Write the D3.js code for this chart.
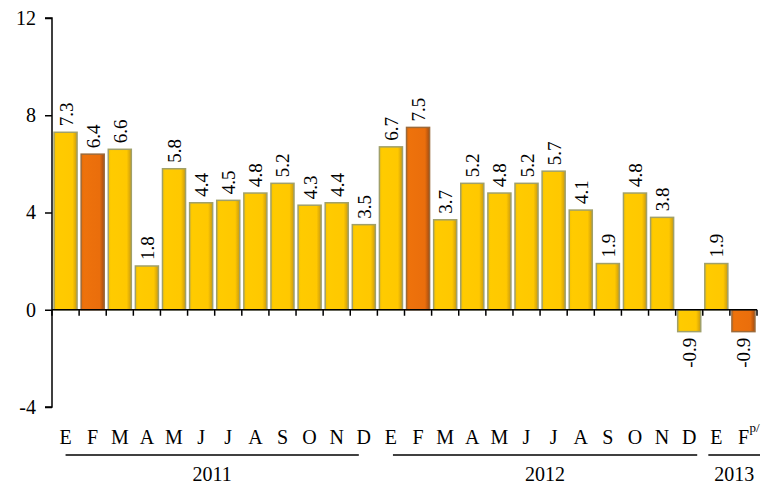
<!DOCTYPE html>
<html>
<head>
<meta charset="utf-8">
<script src="https://cdn.jsdelivr.net/npm/d3@7"></script>
<style>
  html, body { margin: 0; padding: 0; background: #fff; }
  svg text { font-family: "Liberation Serif", "Times New Roman", serif; }
</style>
</head>
<body>
<svg id="chart" width="764" height="489"></svg>
<script>
// Monthly values, Jan 2011 – Feb 2013
const months = ["E","F","M","A","M","J","J","A","S","O","N","D",
                "E","F","M","A","M","J","J","A","S","O","N","D",
                "E","F"];
const values = [7.3, 6.4, 6.6, 1.8, 5.8, 4.4, 4.5, 4.8, 5.2, 4.3, 4.4, 3.5,
                6.7, 7.5, 3.7, 5.2, 4.8, 5.2, 5.7, 4.1, 1.9, 4.8, 3.8, -0.9,
                1.9, -0.9];
// February bars are highlighted
const highlight = [1, 13, 25];
const years = ["2011", "2012", "2013"];
const yearFrom = [0, 12, 24];
const yearTo = [11, 23, 25];
const yTicks = [-4, 0, 4, 8, 12];

(function () {
  const FONT = "'Liberation Serif', 'Times New Roman', serif";
  const svg = d3.select("#chart");
  const L = 52, R = 757, T = 18, B = 407;

  const x = d3.scaleBand().domain(d3.range(values.length)).range([L, R]).paddingInner(0.15).paddingOuter(0.075);
  const y = d3.scaleLinear().domain([-4, 12]).range([B, T]);

  const defs = svg.append("defs");
  function grad(id, stops) {
    const g = defs.append("linearGradient").attr("id", id).attr("x1", 0).attr("x2", 1).attr("y1", 0).attr("y2", 0);
    stops.forEach(s => g.append("stop").attr("offset", s[0]).attr("stop-color", s[1]));
  }
  grad("gYellow", [[0, "#f5c200"], [0.12, "#ffcb00"], [0.8, "#ffc800"], [1, "#c99a10"]]);
  grad("gOrange", [[0, "#e06a08"], [0.12, "#ee720c"], [0.8, "#ea6e0c"], [1, "#a44c10"]]);

  // Bars
  svg.append("g").selectAll("rect").data(values).join("rect")
    .attr("x", (d, i) => x(i))
    .attr("width", x.bandwidth())
    .attr("y", d => y(Math.max(0, d)))
    .attr("height", d => Math.abs(y(d) - y(0)))
    .attr("fill", (d, i) => highlight.includes(i) ? "url(#gOrange)" : "url(#gYellow)")
    .attr("stroke", (d, i) => highlight.includes(i) ? "#9c6a3a" : "#a0a06a")
    .attr("stroke-width", 1.5);

  // Y axis
  const yAxis = d3.axisLeft(y).tickValues(yTicks).tickSize(7).tickPadding(9).tickFormat(d => String(d));
  const gy = svg.append("g").attr("transform", `translate(${L},0)`).call(yAxis)
    .attr("font-family", FONT).attr("font-size", 20);
  gy.select(".domain").attr("stroke", "#000").attr("stroke-width", 1.5).attr("d", `M-7,${T}H0V${B}H-7`);
  gy.selectAll(".tick line").attr("stroke", "#000").attr("stroke-width", 1.5);
  gy.selectAll(".tick text").attr("fill", "#000");

  // Zero line with tick marks at band boundaries
  const zg = svg.append("g");
  zg.append("line").attr("x1", L).attr("x2", R).attr("y1", y(0)).attr("y2", y(0))
    .attr("stroke", "#000").attr("stroke-width", 1.5);
  const step = x.step();
  zg.selectAll("line.t").data(d3.range(values.length + 1)).join("line").attr("class", "t")
    .attr("x1", i => L + i * step).attr("x2", i => L + i * step)
    .attr("y1", y(0)).attr("y2", y(0) + 6)
    .attr("stroke", "#000").attr("stroke-width", 1.5);

  // Value labels, rotated
  svg.append("g").attr("font-family", FONT).selectAll("text").data(values).join("text")
    .attr("transform", (d, i) => {
      const cx = x(i) + x.bandwidth() / 2 + 7;
      const yy = d >= 0 ? y(d) - 6 : y(d) + 6;
      return `translate(${cx},${yy}) rotate(-90)`;
    })
    .attr("text-anchor", d => d >= 0 ? "start" : "end")
    .attr("font-size", 19)
    .attr("fill", "#000")
    .text(d => d.toFixed(1));

  // Month labels
  svg.append("g").attr("font-family", FONT).selectAll("text").data(months).join("text")
    .attr("x", (d, i) => x(i) + x.bandwidth() / 2)
    .attr("y", 444)
    .attr("text-anchor", "middle")
    .attr("font-size", 20)
    .attr("fill", "#000")
    .text(d => d);
  // preliminary marker on the last month
  svg.append("text")
    .attr("font-family", FONT)
    .attr("x", x(values.length - 1) + x.bandwidth() / 2 + 6)
    .attr("y", 432)
    .attr("font-size", 13)
    .attr("fill", "#000")
    .text("p/");

  // Year groups: underline spanning the months, label beneath
  const cen = i => x(i) + x.bandwidth() / 2;
  const lineStart = [cen(yearFrom[0]), cen(yearFrom[1]) + 2, cen(yearFrom[2]) - 8];
  const lineEnd = [cen(yearTo[0]) - 5, cen(yearTo[1]) + 8, R + 3];
  const yg = svg.append("g").attr("font-family", FONT).selectAll("g").data(years).join("g");
  yg.append("line")
    .attr("x1", (d, i) => lineStart[i])
    .attr("x2", (d, i) => lineEnd[i])
    .attr("y1", 455).attr("y2", 455)
    .attr("stroke", "#000").attr("stroke-width", 1.5);
  yg.append("text")
    .attr("x", (d, i) => (lineStart[i] + lineEnd[i]) / 2)
    .attr("y", 481)
    .attr("text-anchor", "middle")
    .attr("font-size", 20)
    .attr("fill", "#000")
    .text(d => d);
})();
</script>
</body>
</html>
